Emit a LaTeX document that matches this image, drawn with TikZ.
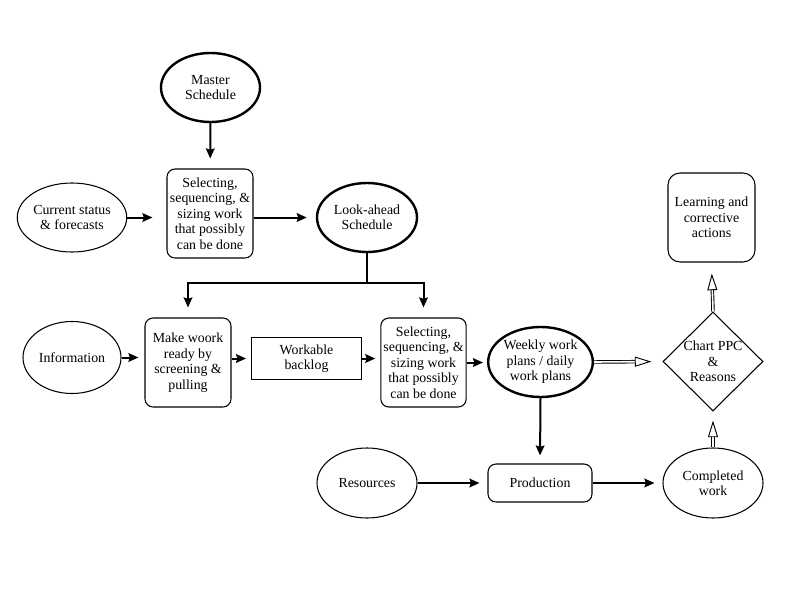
\documentclass[tikz,border=0pt]{standalone}
\usepackage{fontspec}
\setmainfont{Liberation Serif}
\newfontfamily\diagfont{Liberation Serif}
\usetikzlibrary{shapes.geometric,arrows.meta,calc}
\begin{document}
\begin{tikzpicture}[x=0.75pt,y=-0.75pt,
 every node/.style={font=\diagfont\fontsize{10.4pt}{11.6pt}\selectfont, align=center},
 ell/.style={ellipse, draw, line width=0.8pt, inner sep=0pt},
 thickell/.style={ell, line width=1.8pt},
 rbox/.style={draw, rounded corners=6pt, line width=0.8pt, inner sep=1pt},
 sbox/.style={draw, line width=0.7pt, inner sep=1pt},
 diam/.style={diamond, draw, line width=0.8pt, inner sep=0pt, minimum width=75pt, minimum height=74.25pt},
 arr/.style={line width=1.5pt, -{Stealth[length=7.5pt,width=6.5pt,inset=1pt]}},
 dbl/.style={double, double distance=1.2pt, line width=0.7pt, -{Triangle[open,length=12.5pt,width=7.5pt]}},
]
\path[use as bounding box] (0,0) rectangle (800,600);

% nodes
\node[thickell, minimum width=74.25pt, minimum height=51.75pt] (master) at (210.5,87.5) {Master\\Schedule};
\node[ell, minimum width=75pt, minimum height=51.75pt] (cur) at (72,217.5) {Current status\\\& forecasts};
\node[rbox, minimum width=64.5pt, minimum height=66.75pt] (sel1) at (210,213.5) {Selecting,\\sequencing, \&\\sizing work\\that possibly\\can be done};
\node[thickell, minimum width=75pt, minimum height=51.75pt] (look) at (367,217.5) {Look-ahead\\Schedule};
\node[ell, minimum width=73.5pt, minimum height=54pt] (info) at (72,357.5) {Information};
\node[rbox, minimum width=64.5pt, minimum height=66.75pt] (make) at (188,362.5) {Make woork\\ready by\\screening \&\\pulling};
\node[sbox, minimum width=82.5pt, minimum height=31.5pt] (back) at (306.5,358.5) {Workable\\backlog};
\node[rbox, minimum width=64pt, minimum height=66.75pt] (sel2) at (423.5,362.5) {Selecting,\\sequencing, \&\\sizing work\\that possibly\\can be done};
\node[thickell, minimum width=74.25pt, minimum height=52.5pt] (week) at (540.5,362) {Weekly work\\plans / daily\\work plans};
\node[diam] (chart) at (713,361.5) {};
\node (charttext) at (chart.center) {Chart PPC\\\&\\Reasons};
\node[rbox, rounded corners=9pt, minimum width=65.25pt, minimum height=66.75pt] (learn) at (711.5,217.5) {Learning and\\corrective\\actions};
\node[ell, minimum width=75pt, minimum height=52.5pt] (res) at (367,483) {Resources};
\node[rbox, minimum width=78pt, minimum height=28.5pt] (prod) at (540,483) {Production};
\node[ell, minimum width=75pt, minimum height=52.5pt] (done) at (713,483) {Completed\\work};
\coordinate (split) at (367,283);

% connectors
\draw[arr, shorten >=7.5pt] (master) -- (sel1);
\draw[arr, shorten >=10.5pt] (cur.east) -- (cur.east -| sel1.west);
\draw[arr, shorten >=6.75pt] (look.west -| sel1.east) -- (look.west);
\draw[line width=1.5pt] (look.south) -- (split);
\draw[arr, shorten >=7.5pt] (split) -| (make.north);
\draw[arr, shorten >=7.5pt] (split) -| (sel2.north);
\draw[arr, shorten >=4.5pt] (info.east) -- (info.east -| make.west);
\draw[arr, shorten >=3.75pt] (make.east |- back.west) -- (back.west);
\draw[arr, shorten >=3.75pt] (back.east) -- (back.east -| sel2.west);
\draw[arr, shorten >=3pt] (sel2.east) -- (sel2.east -| week.west);
\draw[arr, shorten >=6pt] (week.south) -- (prod.north);
\draw[arr, shorten >=6pt] (res.east) -- (prod.west);
\draw[arr, shorten >=6pt] (prod.east) -- (done.west);
\draw[dbl, shorten >=8.25pt] (week.east) -- (chart.west);
\draw[dbl, shorten >=8.25pt] (chart.north) -- (learn.south);
\draw[dbl, shorten >=6.75pt] (done.north) -- (chart.south);
\end{tikzpicture}
\end{document}
